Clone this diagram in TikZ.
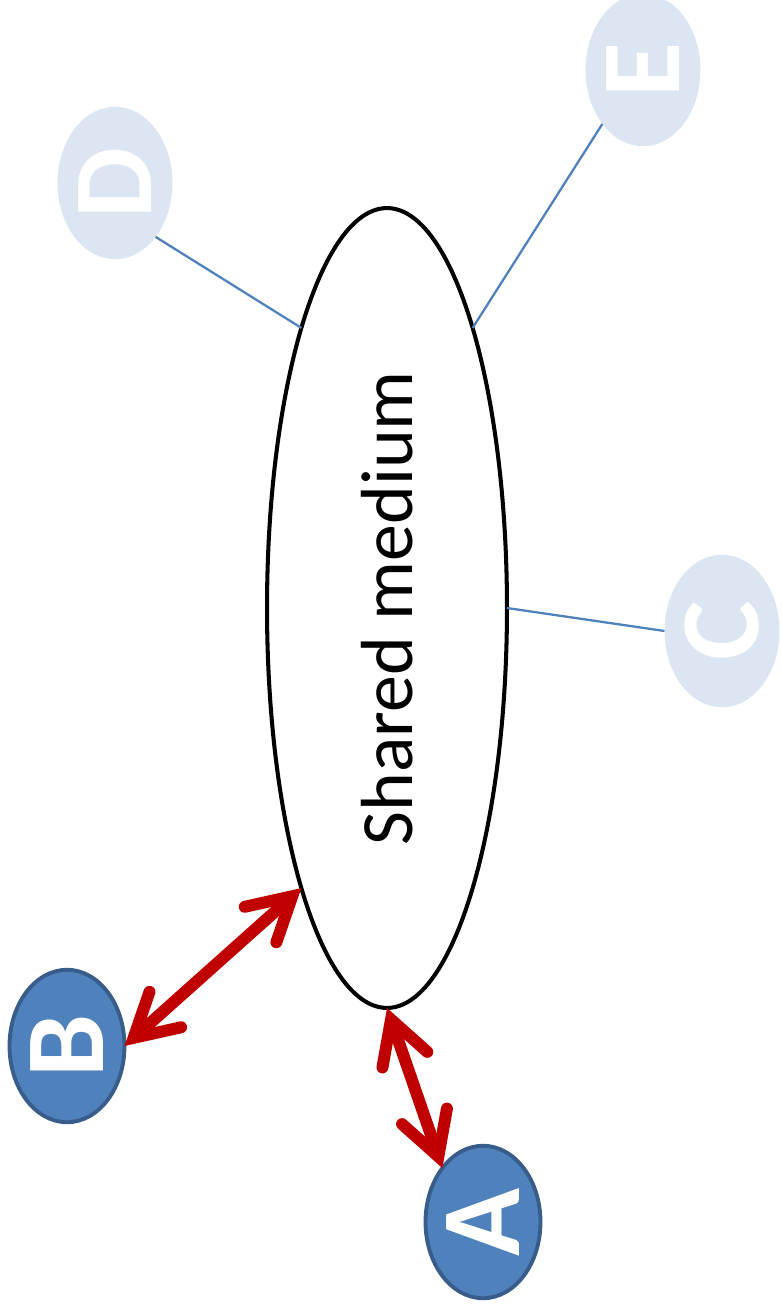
\documentclass[tikz,border=0pt]{standalone}
\usepackage{fontspec}
\setmainfont{Carlito}
\usetikzlibrary{shapes.geometric,arrows.meta}
\definecolor{pale}{HTML}{DCE6F2}
\definecolor{stn}{HTML}{4F81BD}
\definecolor{stnedge}{HTML}{385D8A}
\definecolor{linkred}{HTML}{C00000}

\begin{document}
\begin{tikzpicture}[x=0.02cm,y=-0.02cm,
    station/.style={ellipse,inner sep=0,outer sep=0,minimum width=2.3cm,minimum height=3.05cm,
      text=white,font=\fontsize{64}{64}\selectfont\bfseries},
    idle/.style={station,fill=pale},
    active/.style={station,fill=stn,draw=stnedge,line width=2.2pt},
    tap/.style={stn,line width=1.3pt},
    link/.style={linkred,line width=6.8pt,line cap=round,
      {Straight Barb[length=0.85cm,width=0.95cm,line cap=round]}-{Straight Barb[length=0.85cm,width=0.95cm,line cap=round]}}]
  \useasboundingbox (0,0) rectangle (781,1308);
  % the medium
  \node[ellipse,draw,line width=2.3pt,inner sep=0,outer sep=0,minimum width=4.8cm,minimum height=16cm,
    font=\fontsize{42}{42}\selectfont] (med) at (387,608) {\rotatebox{90}{Shared medium}};
  % stations
  \node[idle] (E) at (643,70) {\rotatebox{90}{E}};
  \node[idle] (D) at (115,183) {\rotatebox{90}{D}};
  \node[idle] (C) at (722,631) {\rotatebox{90}{C}};
  \node[active] (B) at (67,1046) {\rotatebox{90}{B}};
  \node[active] (A) at (483,1222) {\rotatebox{90}{A}};
  % links
  \draw[tap] (D.-53) -- (med.107);
  \draw[tap] (E.233) -- (med.73);
  \draw[tap] (C.west) -- (med.east);
  \draw[link] (B.east) -- (med.253);
  \draw[link] (med.south) -- (A.127);
\end{tikzpicture}
\end{document}
